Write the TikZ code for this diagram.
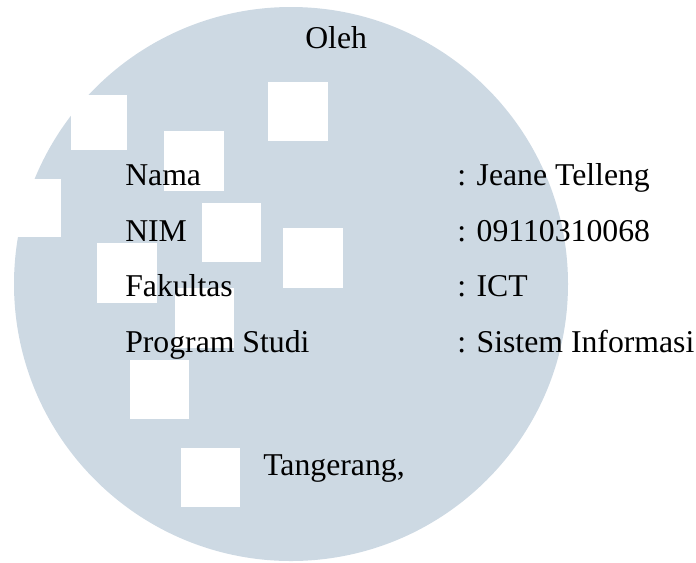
\documentclass[tikz,border=0pt]{standalone}
\usepackage{fontspec}
\setmainfont{Liberation Serif}
\definecolor{disc}{RGB}{205,217,227}
\begin{document}
\begin{tikzpicture}[x=0.75pt,y=-0.75pt,
  patch/.style={fill=white},
  entry/.style={anchor=base west, inner sep=0pt, text=black,
                font=\fontsize{23.8pt}{28pt}\selectfont}]
\useasboundingbox (0,0) rectangle (696,562);

% background disc
\fill[disc] (291,284) circle [radius=277];

% white patches over the disc
\fill[patch] (71,95)   rectangle (127,150);
\fill[patch] (2,179)   rectangle (61,237);
\fill[patch] (164,131) rectangle (224,191);
\fill[patch] (268,82)  rectangle (328,141);
\fill[patch] (202,203) rectangle (261,262);
\fill[patch] (283,228) rectangle (343,288);
\fill[patch] (97,243)  rectangle (157,303);
\fill[patch] (175,288) rectangle (234,348);
\fill[patch] (130,360) rectangle (189,419);
\fill[patch] (181,448) rectangle (240,507);

% text
\node[entry] (oleh) at (305,48) {Oleh};

\node[entry] (nama)  at (125,185) {Nama};
\node[entry] (nim)   at (125,241) {NIM};
\node[entry] (fak)   at (125,296) {Fakultas};
\node[entry] (prodi) at (125,352) {Program Studi};

\node[entry] (namav)  at (457,185) {: Jeane Telleng};
\node[entry] (nimv)   at (457,241) {: 09110310068};
\node[entry] (fakv)   at (457,296) {: ICT};
\node[entry] (prodiv) at (457,352) {: Sistem Informasi};

\node[entry] (kota) at (263,475) {Tangerang,};
\end{tikzpicture}
\end{document}
